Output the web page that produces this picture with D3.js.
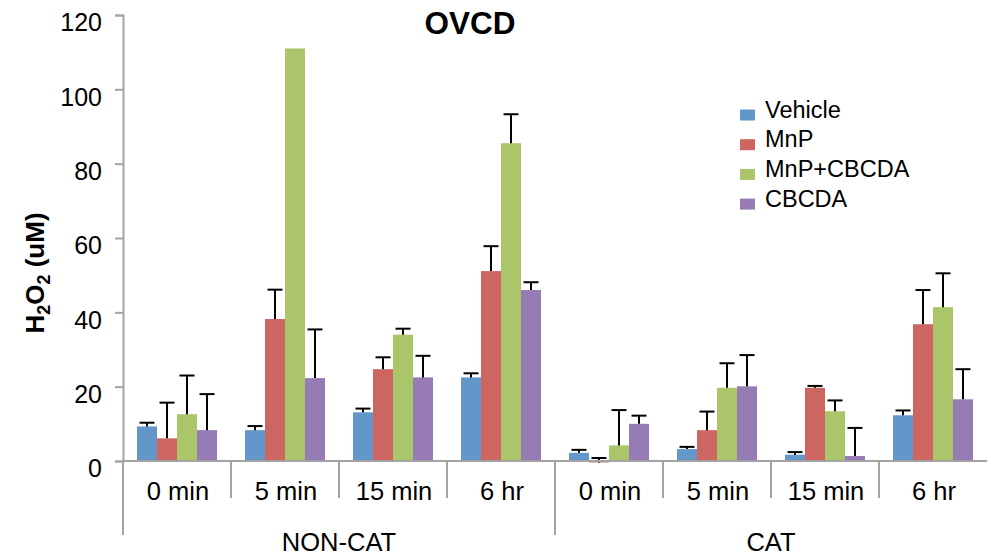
<!DOCTYPE html>
<html>
<head>
<meta charset="utf-8">
<script src="https://cdn.jsdelivr.net/npm/d3@7"></script>
<style>
  body { margin: 0; background: #fff; }
  text { font-family: Arial, "Liberation Sans", sans-serif; fill: #000; }
</style>
</head>
<body>
<div id="chart"></div>
<script>
const groups = ["NON-CAT", "CAT"];
const times = ["0 min", "5 min", "15 min", "6 hr"];
const seriesNames = ["Vehicle", "MnP", "MnP+CBCDA", "CBCDA"];
const colors = ["#6397CA", "#CD6560", "#ABC56A", "#967BB4"];
const yTicks = [0, 20, 40, 60, 80, 100, 120];

// values per series, order: NON-CAT 0,5,15,6hr then CAT 0,5,15,6hr
const vehicle   = [9.3, 8.3, 13.1, 22.5, 2.2, 3.2, 1.7, 12.3];
const mnp       = [6.1, 38.2, 24.7, 51.1, -0.4, 8.3, 19.7, 36.8];
const mnpCbcda  = [12.6, 111.0, 34.0, 85.5, 4.2, 19.7, 13.4, 41.4];
const cbcda     = [8.3, 22.3, 22.5, 46.0, 10.0, 20.1, 1.35, 16.6];

// upper error bars
const vehicleErr  = [1.0, 1.1, 1.0, 1.1, 0.8, 0.6, 0.7, 1.3];
const mnpErr      = [9.6, 7.9, 3.2, 6.7, 1.2, 5.0, 0.5, 9.2];
const mnpCbcdaErr = [10.4, 0, 1.6, 7.8, 9.5, 6.6, 2.9, 9.1];
const cbcdaErr    = [9.7, 13.1, 5.8, 2.1, 2.2, 8.4, 7.55, 8.1];

const values = [vehicle, mnp, mnpCbcda, cbcda];
const errors = [vehicleErr, mnpErr, mnpCbcdaErr, cbcdaErr];

const width = 992;
const height = 559;
const marginLeft = 123;
const marginRight = 5;
const marginTop = 15;
const zeroY = 461;

const cats = groups.flatMap(g => times.map(t => g + "|" + t));

const x = d3.scaleBand()
  .domain(cats)
  .range([marginLeft, width - marginRight]);

const xInner = d3.scaleBand()
  .domain(seriesNames)
  .range([14, x.bandwidth() - 14]);

const y = d3.scaleLinear()
  .domain([0, 120])
  .range([zeroY, marginTop]);

const svg = d3.select("#chart").append("svg")
  .attr("width", width)
  .attr("height", height);

const axisColor = "#A3A3A3";

// y axis
const yAxis = d3.axisLeft(y).tickValues(yTicks).tickSize(8).tickPadding(13);
const gy = svg.append("g")
  .attr("transform", `translate(${marginLeft},0)`)
  .call(yAxis);
gy.select(".domain").attr("stroke", axisColor).attr("stroke-width", 2);
gy.selectAll(".tick line").attr("stroke", axisColor).attr("stroke-width", 2);
gy.selectAll(".tick text")
  .attr("font-size", 25)
  .attr("font-family", "Arial, 'Liberation Sans', sans-serif")
  .attr("dy", "0.63em");

// bars
const rows = cats.map((c, i) => ({ key: c, vals: values.map(v => v[i]), errs: errors.map(e => e[i]) }));

const gCat = svg.selectAll("g.cat")
  .data(rows)
  .join("g")
  .attr("class", "cat")
  .attr("transform", d => `translate(${x(d.key)},0)`);

gCat.selectAll("rect")
  .data(d => d.vals.map((v, j) => ({ v, j })))
  .join("rect")
  .attr("x", d => xInner(seriesNames[d.j]))
  .attr("width", xInner.bandwidth())
  .attr("y", d => y(Math.max(0, d.v)))
  .attr("height", d => Math.abs(y(d.v) - y(0)))
  .attr("fill", d => colors[d.j]);

// x baseline and separators
svg.append("line")
  .attr("x1", marginLeft).attr("x2", width - marginRight)
  .attr("y1", y(0)).attr("y2", y(0))
  .attr("stroke", axisColor).attr("stroke-width", 2);

cats.forEach((c, i) => {
  const outer = i % times.length === 0;
  svg.append("line")
    .attr("x1", x(c)).attr("x2", x(c))
    .attr("y1", y(0)).attr("y2", outer ? 535 : 498)
    .attr("stroke", axisColor).attr("stroke-width", 2);
});

// error bars
const errData = gCat.selectAll("g.err")
  .data(d => d.vals.map((v, j) => ({ v, e: d.errs[j], j })).filter(d => d.e > 0))
  .join("g")
  .attr("class", "err")
  .attr("transform", d => `translate(${xInner(seriesNames[d.j]) + xInner.bandwidth() / 2},0)`);

errData.append("line")
  .attr("y1", d => y(d.v)).attr("y2", d => y(d.v + d.e))
  .attr("stroke", "#000").attr("stroke-width", 2);
errData.append("line")
  .attr("x1", -7.5).attr("x2", 7.5)
  .attr("y1", d => y(d.v + d.e)).attr("y2", d => y(d.v + d.e))
  .attr("stroke", "#000").attr("stroke-width", 2);

// category labels
svg.selectAll("text.time")
  .data(cats)
  .join("text")
  .attr("class", "time")
  .attr("x", d => x(d) + x.bandwidth() / 2 + 1)
  .attr("y", 500)
  .attr("text-anchor", "middle")
  .attr("font-size", 25.5)
  .text(d => d.split("|")[1]);

svg.selectAll("text.group")
  .data(groups)
  .join("text")
  .attr("class", "group")
  .attr("x", g => {
    const first = x(g + "|" + times[0]);
    const last = x(g + "|" + times[times.length - 1]) + x.bandwidth();
    return (first + last) / 2;
  })
  .attr("y", 551)
  .attr("text-anchor", "middle")
  .attr("font-size", 25.5)
  .text(d => d);

// title
svg.append("text")
  .attr("x", 470)
  .attr("y", 34)
  .attr("text-anchor", "middle")
  .attr("font-size", 31.5)
  .attr("font-weight", "bold")
  .text("OVCD");

// y title
const yt = svg.append("text")
  .attr("transform", "translate(44,273) rotate(-90)")
  .attr("text-anchor", "middle")
  .attr("font-size", 26)
  .attr("font-weight", "bold");
yt.append("tspan").text("H");
yt.append("tspan").attr("font-size", 18).attr("dy", 6).text("2");
yt.append("tspan").attr("dy", -6).text("O");
yt.append("tspan").attr("font-size", 18).attr("dy", 6).text("2");
yt.append("tspan").attr("dy", -6).text(" (uM)");

// legend
const legend = svg.append("g").attr("transform", "translate(740,0)");
const lg = legend.selectAll("g")
  .data(seriesNames)
  .join("g")
  .attr("transform", (d, i) => `translate(0,${117.5 + i * 29.7})`);
lg.append("rect")
  .attr("x", 0).attr("y", -8)
  .attr("width", 15).attr("height", 11)
  .attr("fill", (d, i) => colors[i]);
lg.append("text")
  .attr("x", 25).attr("y", 0)
  .attr("font-size", 23.5)
  .text(d => d);
</script>
</body>
</html>
